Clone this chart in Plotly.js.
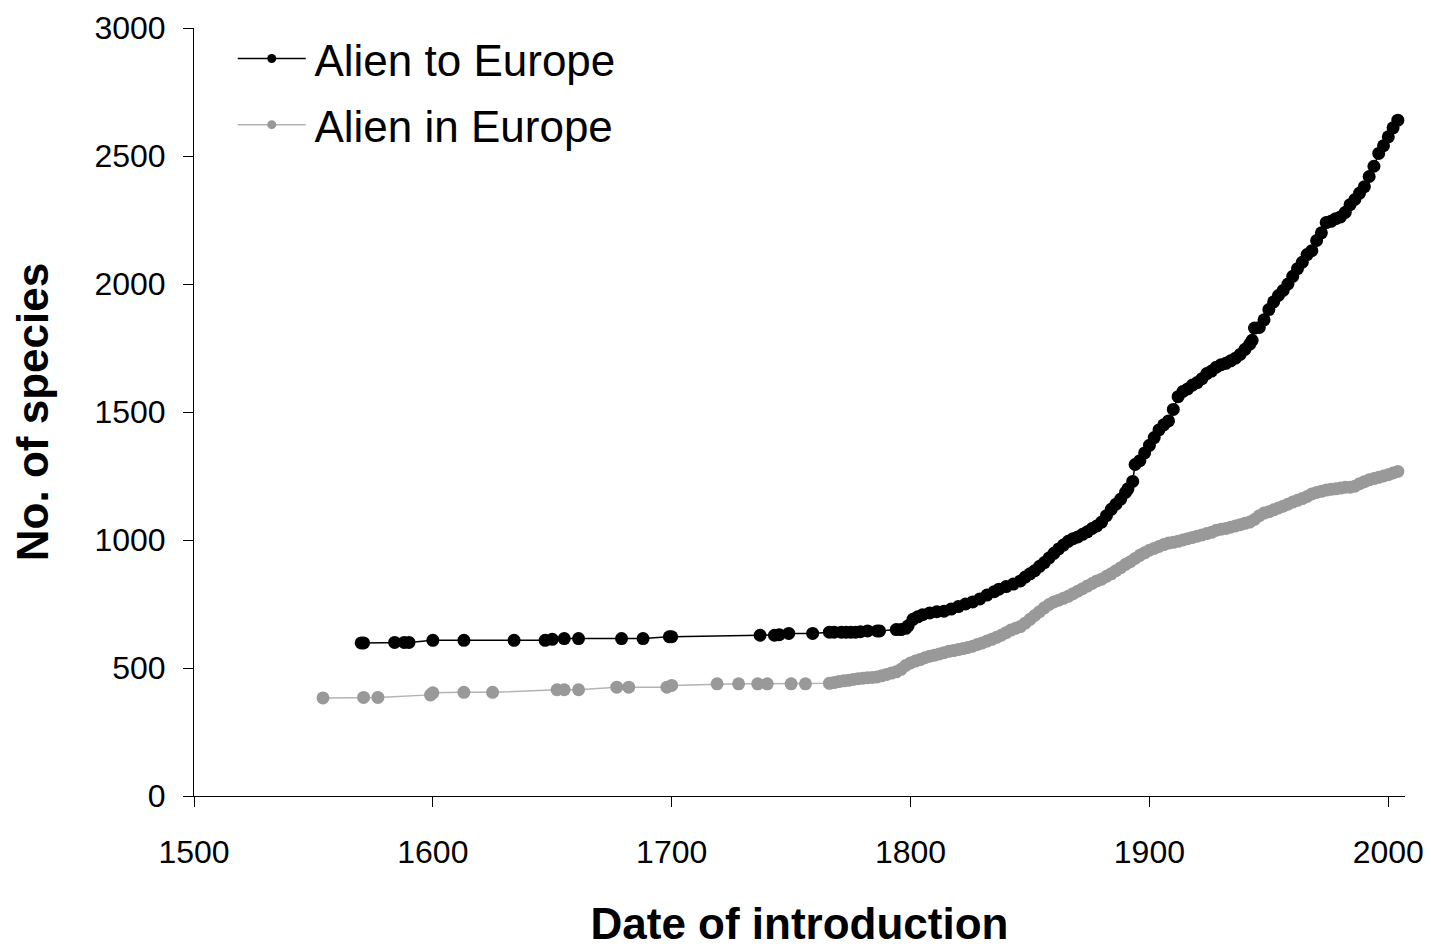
<!DOCTYPE html>
<html>
<head>
<meta charset="utf-8">
<script src="https://cdn.plot.ly/plotly-3.0.1.min.js"></script>
<style>html,body{margin:0;padding:0;background:#fff;}#chart{width:1431px;height:948px;}</style>
</head>
<body>
<div id="chart"></div>
<script>
// Alien to Europe (cumulative no. of species by date of introduction)
const toYears = [1570,1571,1584,1588,1590,1600,1613,1634,1647,1650,1655,1661,1679,1688,1699,1700,
1737,1743,1745,1749,1759,1766,1768,1771,1773,1775,1777,1779,1782,1786,1787,1794,1796,1798,1799,
1801,1803,1805,1808,1811,1814,1817,1820,1823,1826,1829,1832,1835,1837,1840,1843,1846,1848,1850,
1852,1854,1856,1858,1860,1862,1864,1866,1868,1870,1872,1874,1876,1878,1880,1882,1884,1886,1888,
1890,1891,1893,1894,1896,1898,1900,1902,1904,1906,1908,1910,1912,1914,1916,1918,1920,1922,1924,
1926,1928,1930,1932,1934,1936,1938,1940,1942,1943,1944,1946,1948,1950,1952,1954,1956,1958,1960,
1962,1964,1966,1968,1970,1972,1974,1976,1978,1980,1982,1984,1986,1988,1990,1992,1994,1996,1998,
2000,2002,2004];
const toValues = [598,598,600,600,600,608,608,608,608,612,615,615,615,615,622,622,
628,628,630,635,635,640,640,640,640,640,640,642,645,645,645,650,650,655,665,
690,700,708,715,720,722,730,740,750,758,770,785,798,808,818,828,840,855,868,
880,897,912,930,948,965,980,995,1005,1012,1022,1032,1045,1055,1070,1095,1120,1140,1160,
1186,1200,1229,1295,1310,1340,1370,1400,1430,1450,1465,1510,1560,1580,1590,1605,1615,1630,1650,
1660,1675,1685,1690,1700,1710,1725,1745,1765,1780,1828,1830,1860,1900,1930,1955,1975,2000,2030,
2060,2085,2115,2130,2170,2200,2240,2245,2255,2262,2280,2310,2330,2355,2380,2420,2460,2510,2540,
2575,2610,2640];

// Alien in Europe
const inYears = [1554,1571,1577,1599,1600,1613,1625,1652,1655,1661,1677,1682,1698,1700,
1719,1728,1736,1740,1750,1756,1766,1768,1770,1772,1774,1776,1778,1780,1782,1784,1786,1788,1790,
1792,1794,1796,1798,1800,1802,1804,1806,1808,1810,1812,1814,1816,1818,1820,1822,1824,1826,1828,
1830,1832,1834,1836,1838,1840,1842,1844,1846,1848,1850,1852,1854,1856,1858,1860,1862,1864,1866,
1868,1870,1872,1874,1876,1878,1880,1882,1884,1886,1888,1890,1892,1894,1896,1898,1900,1902,1904,
1906,1908,1910,1912,1914,1916,1918,1920,1922,1924,1926,1928,1930,1932,1934,1936,1938,1940,1942,
1944,1946,1948,1950,1952,1954,1956,1958,1960,1962,1964,1966,1968,1970,1972,1974,1976,1978,1980,
1982,1984,1986,1988,1990,1992,1994,1996,1998,2000,2002,2004];
const inValues = [383,385,385,395,403,405,405,415,415,415,425,425,425,432,
438,438,438,438,438,438,440,443,447,450,452,455,458,460,462,463,465,470,475,
480,485,495,510,520,527,533,540,546,550,555,560,565,568,572,576,580,585,592,
598,605,612,620,628,638,648,655,662,675,690,705,720,735,748,758,765,772,780,
790,800,810,820,830,840,847,858,868,880,892,905,915,928,940,950,960,967,975,
982,988,991,995,1000,1005,1010,1015,1020,1025,1030,1038,1042,1045,1050,1055,1060,1065,1070,
1080,1095,1105,1110,1118,1125,1132,1140,1148,1155,1162,1170,1180,1186,1190,1195,1198,1200,1203,
1206,1206,1210,1220,1228,1235,1240,1245,1250,1255,1262,1268];

const seriesNames = ["Alien to Europe", "Alien in Europe"];
const xTicks = [1500,1600,1700,1800,1900,2000];
const yTicks = [0,500,1000,1500,2000,2500,3000];

const FONT = "Liberation Sans, Arial, sans-serif";
const traces = [
  {x: inYears, y: inValues, type: "scatter", mode: "lines+markers", showlegend: false,
   line: {color: "#b3b3b3", width: 1.5}, marker: {color: "#999999", size: 13}},
  {x: toYears, y: toValues, type: "scatter", mode: "lines+markers", showlegend: false,
   line: {color: "#000000", width: 1.5}, marker: {color: "#000000", size: 13}},
  {x: [null], y: [null], name: "\u200A" + seriesNames[0], legendgroup: "a", type: "scatter", mode: "lines+markers",
   line: {color: "#000000", width: 1.5}, marker: {color: "#000000", size: 9}},
  {x: [null], y: [null], name: "\u200A" + seriesNames[1], legendgroup: "b", type: "scatter", mode: "lines+markers",
   line: {color: "#b3b3b3", width: 1.5}, marker: {color: "#999999", size: 9}}
];

const layout = {
  width: 1431, height: 948,
  margin: {l: 194, r: 26, t: 28, b: 152},
  paper_bgcolor: "#ffffff", plot_bgcolor: "#ffffff",
  font: {family: FONT, color: "#000000"},
  showlegend: true,
  legend: {x: 0.032, y: 1.006, xanchor: "left", yanchor: "top", bgcolor: "rgba(0,0,0,0)",
    font: {family: FONT, size: 44, color: "#000"}, itemwidth: 68, tracegroupgap: 6, traceorder: "grouped"},
  xaxis: {
    range: [1500, 2007], tickvals: xTicks, ticktext: xTicks.map(String),
    showgrid: false, zeroline: false, showline: true, linecolor: "#000", linewidth: 1,
    ticks: "outside", ticklen: 10, tickcolor: "#000", tickwidth: 1,
    tickfont: {family: FONT, size: 32, color: "#000"}, ticklabelstandoff: 18,
    title: {text: "Date of introduction", font: {family: FONT, size: 44, color: "#000", weight: "bold"}, standoff: 53}
  },
  yaxis: {
    range: [0, 3000], tickvals: yTicks, ticktext: yTicks.map(String),
    showgrid: false, zeroline: false, showline: true, linecolor: "#000", linewidth: 1,
    ticks: "outside", ticklen: 10, tickcolor: "#000", tickwidth: 1,
    tickfont: {family: FONT, size: 32, color: "#000"}, ticklabelstandoff: 11,
    title: {text: "No. of species", font: {family: FONT, size: 44, color: "#000", weight: "bold"}, standoff: 32}
  }
};

Plotly.newPlot("chart", traces, layout, {displayModeBar: false, staticPlot: true});
</script>
</body>
</html>
